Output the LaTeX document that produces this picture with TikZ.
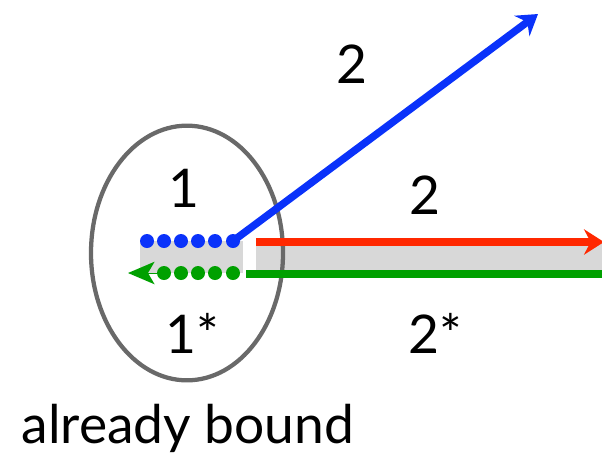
\documentclass[tikz,border=0pt]{standalone}
\usepackage{fontspec}
\setmainfont{Lato}
\usetikzlibrary{arrows.meta,shapes.geometric}
\definecolor{bblue}{RGB}{10,50,250}
\definecolor{rred}{RGB}{255,40,0}
\definecolor{ggreen}{RGB}{0,160,0}
\definecolor{lgray}{RGB}{216,216,216}
\definecolor{egray}{RGB}{105,105,105}
\tikzset{
  lbl/.style={font=\fontsize{40}{46}\selectfont, inner sep=0pt},
  bdot/.style={circle, fill=bblue, minimum size=10.5pt, inner sep=0pt},
  gdot/.style={circle, fill=ggreen, minimum size=10.5pt, inner sep=0pt},
  thick arrow/.style={line width=5.6pt, -{Stealth[length=15pt, width=19pt, inset=5pt]}},
}
\begin{document}
\begin{tikzpicture}[x=0.75pt, y=-0.75pt]
\useasboundingbox (0,0) rectangle (602,462);
% gray bands
\fill[lgray] (140,241) rectangle (243,273);
\fill[lgray] (256,241) rectangle (602,273);
% ellipse
\node[draw=egray, line width=3.2pt, ellipse, minimum width=144pt, minimum height=191pt, inner sep=0pt] (ell) at (187,253) {};
% dots
\foreach \i/\x in {1/147,2/164,3/181,4/198,5/215,6/233}
  \node[bdot] (b\i) at (\x,241) {};
\foreach \i/\x in {1/164,2/181,3/198,4/215,5/233}
  \node[gdot] (g\i) at (\x,273) {};
% coordinates
\coordinate (btip) at (538,14);
\coordinate (rstart) at (256,242);
\coordinate (rtip) at (604,242);
\coordinate (gstart) at (246,274);
\coordinate (gend) at (602,274);
\coordinate (gtip) at (128,273);
% arrows
\draw[bblue, thick arrow] (b6.center) -- (btip);
\draw[rred, thick arrow] (rstart) -- (rtip);
\draw[ggreen, line width=5.8pt] (gstart) -- (gend);
\draw[ggreen, line width=0pt, -{Stealth[length=20pt, width=17pt, inset=5pt]}] (g1.center) -- (gtip);
% labels
\node[lbl] (l2a) at (352,64) {2};
\node[lbl] (l1) at (184,188) {1};
\node[lbl] (l2b) at (425,195) {2};
\node[lbl] (l1s) at (192,333) {1*};
\node[lbl] (l2s) at (435,333) {2*};
\node[lbl] (ab) at (188,428) {already bound};
\end{tikzpicture}
\end{document}
